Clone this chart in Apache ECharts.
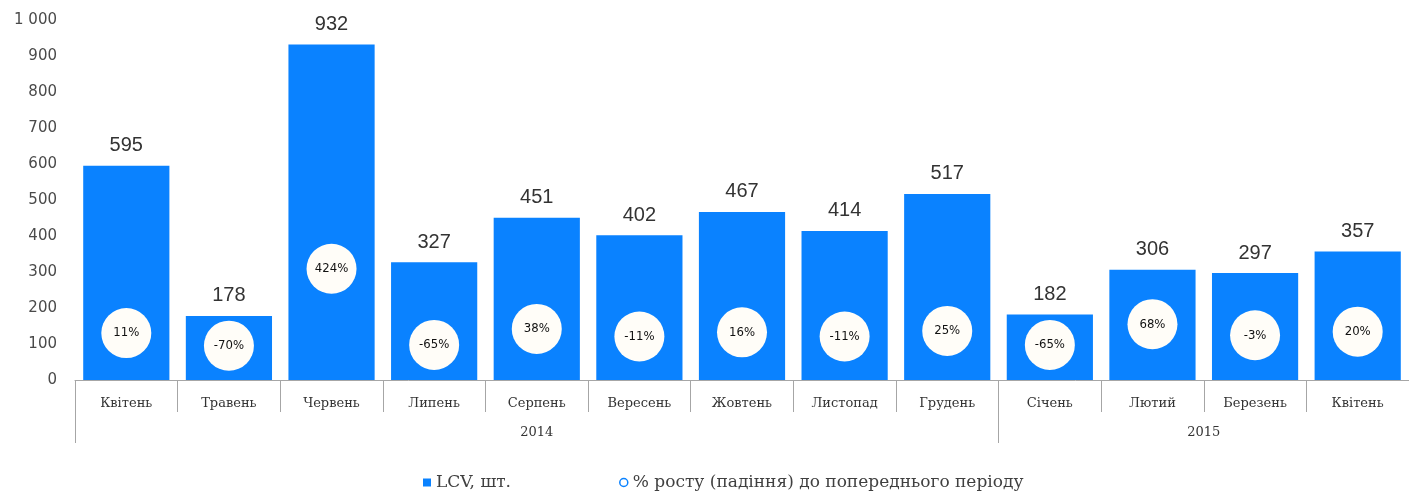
<!DOCTYPE html>
<html><head><meta charset="utf-8">
<script src="https://cdn.jsdelivr.net/npm/echarts@6/dist/echarts.min.js"></script>
<style>html,body{margin:0;padding:0;background:#fff;overflow:hidden}#c{width:1409px;height:497px}</style>
</head><body><div id="c"></div>
<script>
const months = ['Квітень','Травень','Червень','Липень','Серпень','Вересень','Жовтень','Листопад','Грудень','Січень','Лютий','Березень','Квітень'];
const lcv = [595,178,932,327,451,402,467,414,517,182,306,297,357];
const growth = [11,-70,424,-65,38,-11,16,-11,25,-65,68,-3,20];
const years = ['2014','2015'];
const yearSpans = [9,4];
const seriesNames = ['LCV, шт.','% росту (падіння) до попереднього періоду'];

// year axis: half-category positions 0..2*N, boundaries & centers
const N = months.length;
const yearAxisData = new Array(2*N+1).fill('');
const yearBoundaries = [0];
let acc = 0;
yearSpans.forEach((s,i)=>{ yearAxisData[acc*2 + s] = years[i]; acc += s; yearBoundaries.push(acc*2); });
yearBoundaries.pop();

const blue = '#0a82ff';
const gray = '#a6a6a6';
const chart = echarts.init(document.getElementById('c'));
chart.setOption({
  animation:false,
  grid:{left:75,right:-2,top:20,bottom:117,containLabel:false},
  legend:{
    bottom:1,left:418,itemGap:108,itemWidth:8,itemHeight:8,
    textStyle:{fontFamily:'DejaVu Serif',fontSize:17,color:'#404040'},
    data:[
      {name:seriesNames[0],icon:'rect',itemStyle:{color:blue}},
      {name:seriesNames[1],icon:'circle',itemStyle:{color:'#fff',borderColor:blue,borderWidth:1.5}}
    ]
  },
  xAxis:[
    {type:'category',data:months,boundaryGap:true,
     axisLine:{onZero:false,lineStyle:{color:gray,width:1}},
     axisTick:{show:true,interval:0,length:32,lineStyle:{color:gray,width:1}},
     axisLabel:{interval:0,margin:17,fontFamily:'DejaVu Serif',fontSize:13,color:'#333'}},
    {type:'category',data:yearAxisData,boundaryGap:false,position:'bottom',offset:0,
     axisLine:{show:false,onZero:false},
     axisTick:{show:true,interval:(i)=>yearBoundaries.includes(i),length:63,lineStyle:{color:gray,width:1}},
     axisLabel:{interval:(i,v)=>v!=='',margin:46,fontFamily:'DejaVu Serif',fontSize:13,color:'#333'}}
  ],
  yAxis:[
    {type:'value',min:0,max:1000,interval:100,splitLine:{show:false},axisLine:{show:false},axisTick:{show:false},
     axisLabel:{margin:18,fontFamily:'DejaVu Sans',fontSize:15,color:'#4a4a4a',
       formatter:v=>String(v).replace(/\B(?=(\d{3})+(?!\d))/g,' ')}},
    {type:'value',min:-290,max:2020,show:false,splitLine:{show:false}}
  ],
  series:[
    {name:seriesNames[0],type:'bar',data:lcv,barCategoryGap:'16%',itemStyle:{color:blue},
     label:{show:true,position:'top',distance:10,fontFamily:'Liberation Sans',fontSize:20,color:'#333'}},
    {name:seriesNames[1],type:'scatter',yAxisIndex:1,data:growth,symbol:'circle',symbolSize:50,
     itemStyle:{color:'#fffdf8',opacity:1},z:5,
     label:{show:true,position:'inside',formatter:p=>p.value+'%',fontFamily:'DejaVu Sans Condensed',fontSize:13,color:'#111'}}
  ]
});
</script></body></html>
